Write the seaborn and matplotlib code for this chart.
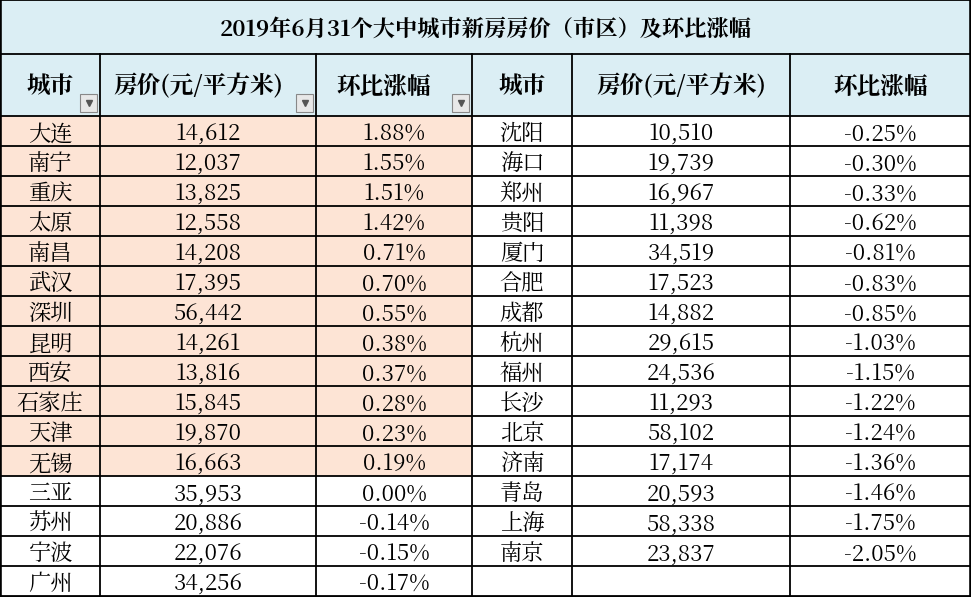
import matplotlib.pyplot as plt
import seaborn as sns
import numpy as np
from matplotlib import font_manager

title = '2019年6月31个大中城市新房房价（市区）及环比涨幅'
headers = ['城市', '房价(元/平方米)', '环比涨幅', '城市', '房价(元/平方米)', '环比涨幅']

left_city = ['大连', '南宁', '重庆', '太原', '南昌', '武汉', '深圳', '昆明', '西安',
             '石家庄', '天津', '无锡', '三亚', '苏州', '宁波', '广州']
left_price = [14612, 12037, 13825, 12558, 14208, 17395, 56442, 14261, 13816,
              15845, 19870, 16663, 35953, 20886, 22076, 34256]
left_chg = [1.88, 1.55, 1.51, 1.42, 0.71, 0.70, 0.55, 0.38, 0.37,
            0.28, 0.23, 0.19, 0.00, -0.14, -0.15, -0.17]

right_city = ['沈阳', '海口', '郑州', '贵阳', '厦门', '合肥', '成都', '杭州', '福州',
              '长沙', '北京', '济南', '青岛', '上海', '南京']
right_price = [10510, 19739, 16967, 11398, 34519, 17523, 14882, 29615, 24536,
               11293, 58102, 17174, 20593, 58338, 23837]
right_chg = [-0.25, -0.30, -0.33, -0.62, -0.81, -0.83, -0.85, -1.03, -1.15,
             -1.22, -1.24, -1.36, -1.46, -1.75, -2.05]

W, H = 971, 597
col_edges = [0, 100, 316, 472, 572, 790, 971]
title_h, head_h, row_h = 54, 62, 30
row_edges = [0, title_h] + [title_h + head_h + i * row_h for i in range(17)]

# background colour codes per pixel: 0 white, 1 blue, 2 peach
bg = np.zeros((H, W))
bg[:title_h + head_h, :] = 1
for i, c in enumerate(left_chg):
    if c > 0:
        y0 = row_edges[i + 2]
        bg[y0:y0 + row_h, :col_edges[3]] = 2

# prefer a serif CJK face (closer to the original SimSun look)
names = sorted({f.name for f in font_manager.fontManager.ttflist if 'CJK' in f.name})
serif = [n for n in names if 'Serif' in n and 'SC' in n] or [n for n in names if 'Serif' in n]
sans = [n for n in names if 'Sans' in n and 'SC' in n]
plt.rcParams['font.family'] = 'sans-serif'
plt.rcParams['font.sans-serif'] = serif + sans + ['Noto Sans CJK SC', 'DejaVu Sans']

fig = plt.figure(figsize=(W / 100, H / 100), dpi=100)
ax = fig.add_axes([0, 0, 1, 1])
sns.heatmap(bg, cmap=['#ffffff', '#dbeef4', '#fde4d5'], vmin=-0.5, vmax=2.5,
            cbar=False, xticklabels=False, yticklabels=False, ax=ax)

lw = 1.3
for y in row_edges + [H]:
    ax.axhline(y, color='black', lw=lw)
for j, x in enumerate(col_edges):
    ax.plot([x, x], [title_h, H], color='black', lw=lw)
ax.plot([0, 0], [0, H], color='black', lw=lw * 2)
ax.plot([W, W], [0, H], color='black', lw=lw * 2)

ax.text(W / 2, title_h / 2 + 3, title, ha='center', va='center', fontsize=16, fontweight='bold')
for j, h in enumerate(headers):
    cx = (col_edges[j] + col_edges[j + 1]) / 2
    if 0 < j < 3:
        cx -= 10
    ax.text(cx, title_h + head_h / 2 + 2, h, ha='center', va='center', fontsize=17, fontweight='bold')
    if j < 3:
        bx = col_edges[j + 1] - 20
        ax.add_patch(plt.Rectangle((bx, title_h + 40), 17, 18, fc='#e8e8e8', ec='#888888', lw=0.8))
        ax.plot(bx + 8.5, title_h + 49, marker='v', color='#555555', ms=5)


def fill(cities, prices, chgs, off):
    for i, (c, p, g) in enumerate(zip(cities, prices, chgs)):
        cy = row_edges[i + 2] + row_h / 2 + 3
        ax.text(col_edges[off] + 50, cy, c, ha='center', va='center', fontsize=16)
        ax.text((col_edges[off + 1] + col_edges[off + 2]) / 2, cy, f'{p:,}',
                ha='center', va='center', fontsize=16)
        ax.text((col_edges[off + 2] + col_edges[off + 3]) / 2, cy, f'{g:.2f}%',
                ha='center', va='center', fontsize=16)


fill(left_city, left_price, left_chg, 0)
fill(right_city, right_price, right_chg, 3)

ax.set_xlim(0, W)
ax.set_ylim(H, 0)
ax.axis('off')
fig.savefig('out.png', dpi=100)
